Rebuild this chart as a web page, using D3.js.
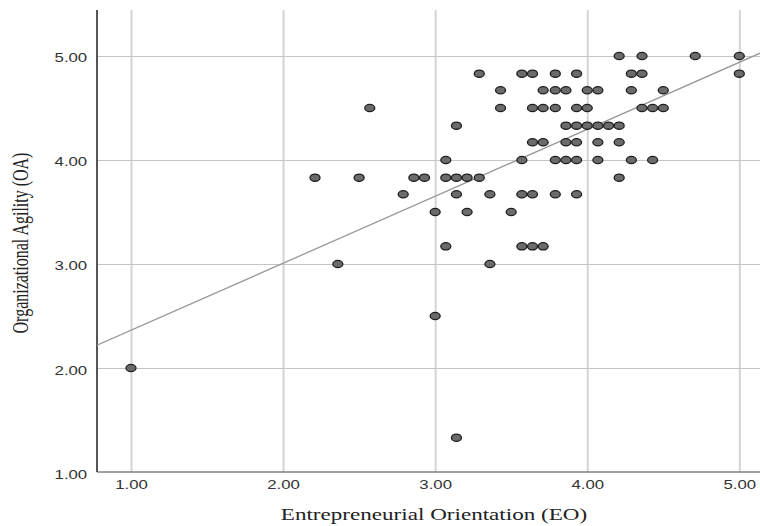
<!DOCTYPE html>
<html>
<head>
<meta charset="utf-8">
<script src="https://cdn.jsdelivr.net/npm/d3@7/dist/d3.min.js"></script>
<style>
  html, body { margin: 0; padding: 0; background: #fff; }
  svg { display: block; }
</style>
</head>
<body>
<svg id="chart" width="760" height="526"></svg>
<script>
// ---- data ----
const eoValues = [
  4.21, 4.36, 4.71, 5.00,
  3.29, 3.57, 3.64, 3.79, 3.93, 4.29, 4.36, 5.00,
  3.43, 3.71, 3.79, 3.86, 4.00, 4.07, 4.29, 4.50,
  2.57, 3.43, 3.64, 3.71, 3.79, 3.93, 4.00, 4.36, 4.43, 4.50,
  3.14, 3.86, 3.93, 4.00, 4.07, 4.14, 4.21,
  3.64, 3.71, 3.86, 3.93, 4.07, 4.21,
  3.07, 3.57, 3.79, 3.86, 3.93, 4.07, 4.29, 4.43,
  2.21, 2.50, 2.86, 2.93, 3.07, 3.14, 3.21, 3.29, 4.21,
  2.79, 3.14, 3.36, 3.57, 3.64, 3.79, 3.93,
  3.00, 3.21, 3.50,
  3.07, 3.57, 3.64, 3.71,
  2.36, 3.36,
  3.00,
  1.00,
  3.14
];
const oaValues = [
  5.00, 5.00, 5.00, 5.00,
  4.83, 4.83, 4.83, 4.83, 4.83, 4.83, 4.83, 4.83,
  4.67, 4.67, 4.67, 4.67, 4.67, 4.67, 4.67, 4.67,
  4.50, 4.50, 4.50, 4.50, 4.50, 4.50, 4.50, 4.50, 4.50, 4.50,
  4.33, 4.33, 4.33, 4.33, 4.33, 4.33, 4.33,
  4.17, 4.17, 4.17, 4.17, 4.17, 4.17,
  4.00, 4.00, 4.00, 4.00, 4.00, 4.00, 4.00, 4.00,
  3.83, 3.83, 3.83, 3.83, 3.83, 3.83, 3.83, 3.83, 3.83,
  3.67, 3.67, 3.67, 3.67, 3.67, 3.67, 3.67,
  3.50, 3.50, 3.50,
  3.17, 3.17, 3.17, 3.17,
  3.00, 3.00,
  2.50,
  2.00,
  1.33
];
const xTickValues = [1, 2, 3, 4, 5];
const yTickValues = [1, 2, 3, 4, 5];
const fitLine = { intercept: 1.719, slope: 0.644 };
const xTitle = "Entrepreneurial Orientation (EO)";
const yTitle = "Organizational Agility (OA)";

// ---- layout ----
const pLeft = 97, pRight = 760, pTop = 10, pBottom = 472;
const SX = 1.4; // horizontal stretch of the reference picture

const svg = d3.select("#chart");
const x = d3.scaleLinear().domain([0.7765, 5.136]).range([pLeft, pRight]);
const y = d3.scaleLinear().domain([1, 5.442]).range([pBottom, pTop]);
const fmt = d3.format(".2f");

// gridlines
const gridV = svg.append("g").attr("transform", `translate(0,${pBottom})`)
  .call(d3.axisBottom(x).tickValues(xTickValues).tickSize(-(pBottom - pTop)).tickFormat(""));
gridV.select(".domain").remove();
gridV.selectAll("line").attr("stroke", "#d4d4d4").attr("stroke-width", 2);

const gridH = svg.append("g").attr("transform", `translate(${pLeft},0)`)
  .call(d3.axisLeft(y).tickValues(yTickValues.filter(d => d > 1)).tickSize(-(pRight - pLeft)).tickFormat(""));
gridH.select(".domain").remove();
gridH.selectAll("line").attr("stroke", "#c4c4c4").attr("stroke-width", 1);

// axis lines
svg.append("line").attr("x1", pLeft).attr("x2", pRight).attr("y1", pBottom).attr("y2", pBottom)
  .attr("stroke", "#808080").attr("stroke-width", 1.6);
svg.append("line").attr("x1", pLeft).attr("x2", pLeft).attr("y1", pTop).attr("y2", pBottom)
  .attr("stroke", "#555").attr("stroke-width", 2);

// tick labels
const gx = svg.append("g").attr("transform", `translate(0,${pBottom})`)
  .call(d3.axisBottom(x).tickValues(xTickValues).tickFormat(fmt).tickSize(0).tickPadding(8));
gx.select(".domain").remove();
gx.selectAll("text").attr("transform", `scale(${SX},1)`)
  .style("font-family", "'Liberation Sans', Arial, sans-serif").style("font-size", "12px").attr("fill", "#333");

const gy = svg.append("g").attr("transform", `translate(${pLeft},0)`)
  .call(d3.axisLeft(y).tickValues(yTickValues).tickFormat(fmt).tickSize(0).tickPadding(7));
gy.select(".domain").remove();
gy.selectAll("text").attr("transform", `scale(${SX},1)`).attr("dy", "0.5em")
  .style("font-family", "'Liberation Sans', Arial, sans-serif").style("font-size", "12px").attr("fill", "#333");

// fit line (clipped to plot area)
svg.append("clipPath").attr("id", "plotclip").append("rect")
  .attr("x", pLeft).attr("y", pTop).attr("width", pRight - pLeft).attr("height", pBottom - pTop);
const xd = x.domain();
svg.append("line")
  .attr("clip-path", "url(#plotclip)")
  .attr("x1", x(xd[0])).attr("y1", y(fitLine.intercept + fitLine.slope * xd[0]))
  .attr("x2", x(xd[1])).attr("y2", y(fitLine.intercept + fitLine.slope * xd[1]))
  .attr("stroke", "#999").attr("stroke-width", 1.3);

// points
const pts = eoValues.map((e, i) => ({ eo: e, oa: oaValues[i] }));
svg.append("g").selectAll("ellipse").data(pts).join("ellipse")
  .attr("cx", d => x(d.eo)).attr("cy", d => y(d.oa))
  .attr("rx", 5.0).attr("ry", 3.6)
  .attr("fill", "#6b6b6b").attr("stroke", "#1f1f1f").attr("stroke-width", 1.3);

// axis titles
svg.append("text")
  .attr("transform", `translate(434,520) scale(${SX},1)`)
  .attr("text-anchor", "middle")
  .style("font-family", "'Liberation Serif', 'Times New Roman', serif").style("font-size", "16.5px")
  .attr("fill", "#222").text(xTitle);

svg.append("text")
  .attr("transform", `translate(28,243) scale(${SX},1) rotate(-90)`)
  .attr("text-anchor", "middle")
  .style("font-family", "'Liberation Serif', 'Times New Roman', serif").style("font-size", "16px")
  .attr("fill", "#222").text(yTitle);
</script>
</body>
</html>
